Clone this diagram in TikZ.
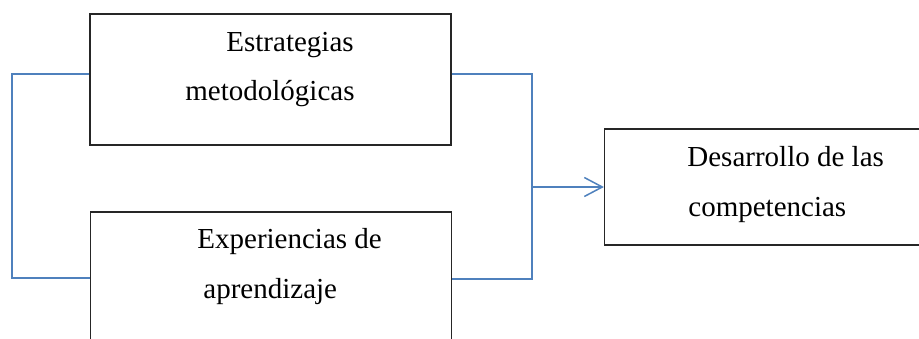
\documentclass[tikz,border=0pt]{standalone}
\usepackage{fontspec}
\setmainfont{Liberation Serif}
\usepackage{tikz}
\usetikzlibrary{arrows.meta}

\definecolor{linkblue}{HTML}{4F81BD}
\tikzset{
  box/.style={shape=rectangle, draw=black!85, line width=0.6pt, inner sep=0pt},
  txt/.style={anchor=base west, inner sep=0pt, font=\fontsize{14.5}{17}\selectfont},
  link/.style={draw=linkblue, line width=0.75pt},
  arrow/.style={link, -{Straight Barb[length=9pt, width=9.5pt, line width=0.75pt]}}
}

\begin{document}
\begin{tikzpicture}[x=0.5pt, y=-0.5pt]
\useasboundingbox (0,0) rectangle (919,338);

\node[box, minimum width=180.5pt, minimum height=65.5pt](estr) at (270.5,79.5) {};
\node[box, minimum width=180.5pt, minimum height=69pt](expe) at (271,281) {};
\node[box, minimum width=160.5pt, minimum height=58pt](desa) at (765,187) {};

\node[txt](estr1) at (226,51) {Estrategias};
\node[txt](estr2) at (185,100) {metodológicas};
\node[txt](expe1) at (197,248) {Experiencias de};
\node[txt](expe2) at (203,298) {aprendizaje};
\node[txt](desa1) at (687,166) {Desarrollo de las};
\node[txt](desa2) at (688,216) {competencias};

\coordinate (lt) at (12,74);
\coordinate (lb) at (12,278);
\coordinate (rt) at (532,74);
\coordinate (rb) at (532,279);
\coordinate (mid) at (532,187);

\draw[link] (estr.west |- lt) -- (lt) -- (lb) -- (expe.west |- lb);
\draw[link] (estr.east |- rt) -- (rt) -- (rb) -- (expe.east |- rb);
\draw[arrow] (mid) -- (desa.west);
\end{tikzpicture}
\end{document}
